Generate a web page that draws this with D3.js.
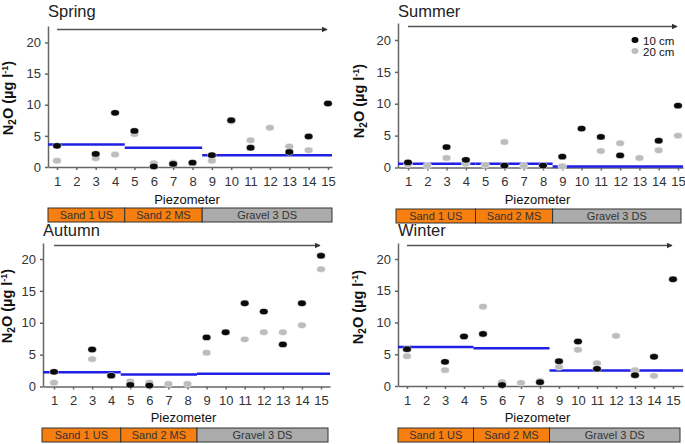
<!DOCTYPE html>
<html><head><meta charset="utf-8">
<script src="https://cdnjs.cloudflare.com/ajax/libs/d3/7.8.5/d3.min.js"></script>
<style>body{margin:0;background:#fff}svg{display:block;font-family:"Liberation Sans",Arial,sans-serif}</style>
</head><body><svg id="c" width="685" height="444"></svg>
<script>
const piezometers = [1,2,3,4,5,6,7,8,9,10,11,12,13,14,15];
const yTicks = [0,5,10,15,20];
const seasons = ["Spring","Summer","Autumn","Winter"];
const spring10 = [3.4,null,2.1,8.7,5.8,0.1,0.5,0.7,1.9,7.5,3.1,null,2.4,4.9,10.2];
const spring20 = [1.0,null,1.4,2.0,5.3,0.6,0.7,0.6,1.0,7.3,4.3,6.3,3.3,2.7,null];
const summer10 = [0.8,null,3.2,1.2,null,0.3,null,0.3,1.7,6.1,4.8,1.9,null,4.2,9.7];
const summer20 = [0.5,0.3,1.5,0.6,0.4,4.0,0.3,null,0.2,null,2.6,3.8,1.5,2.7,5.0];
const autumn10 = [2.3,null,5.8,1.7,0.25,0.15,null,null,7.7,8.5,13.05,11.75,6.6,13.05,20.5];
const autumn20 = [0.6,null,4.3,null,0.8,0.6,0.4,0.4,5.3,null,7.4,8.5,8.5,9.6,18.4];
const winter10 = [5.8,null,3.8,7.8,8.2,0.15,null,0.6,3.9,7.0,2.7,null,1.7,4.6,16.8];
const winter20 = [4.7,null,2.5,null,12.5,0.6,0.5,0.8,3.0,5.7,3.6,7.9,2.5,1.6,null];
const zoneNames = ["Sand 1 US","Sand 2 MS","Gravel 3 DS"];
const zoneBounds = [[null,4.5],[4.5,8.5],[8.5,null]];
const springMeans = [3.6,3.1,1.9];
const summerMeans = [0.6,0.6,0.15];
const autumnMeans = [2.25,1.9,2.0];
const winterMeans = [6.15,5.95,2.45];
const seriesNames = ["10 cm","20 cm"];

const data10 = [spring10,summer10,autumn10,winter10];
const data20 = [spring20,summer20,autumn20,winter20];
const means = [springMeans,summerMeans,autumnMeans,winterMeans];

// panel geometry (pixels)
const panels = [
 {axisX:48, xEnd:332, x1:57, x15:328, y0:167, y20:42.5, yTop:26, titleY:17, tickY:186, labY:204, barY:208, barX0:48, barX1:332, arrowY:29.5, ylabX:13, ylabY:98},
 {axisX:398, xEnd:683, x1:408, x15:678, y0:167.5, y20:40, yTop:23, titleY:17, tickY:186, labY:204, barY:209, barX0:396, barX1:681, arrowY:26.5, ylabX:364, ylabY:101},
 {axisX:43, xEnd:330, x1:54, x15:321, y0:386.5, y20:259, yTop:243, titleY:236, tickY:405, labY:422, barY:428, barX0:42, barX1:328, arrowY:245.5, ylabX:12, ylabY:306},
 {axisX:398, xEnd:683, x1:407, x15:673, y0:386, y20:259, yTop:243, titleY:236, tickY:405, labY:422, barY:428, barX0:398, barX1:680, arrowY:245.5, ylabX:363, ylabY:307}
];

const svg = d3.select("#c");
const defs = svg.append("defs");
defs.append("marker").attr("id","arr").attr("viewBox","0 0 10 10").attr("refX",9).attr("refY",5)
  .attr("markerWidth",4).attr("markerHeight",4).attr("orient","auto")
  .append("path").attr("d","M0,0L10,5L0,10Z").attr("fill","#333");

panels.forEach((p,i)=>{
  const g = svg.append("g");
  const kx = (p.x15-p.x1)/14;
  const x = d3.scaleLinear().domain([1-(p.x1-p.axisX)/kx, 15+(p.xEnd-p.x15)/kx]).range([p.axisX,p.xEnd]);
  const ky = (p.y0-p.y20)/20;
  const y = d3.scaleLinear().domain([0,(p.y0-p.yTop)/ky]).range([p.y0,p.yTop]);

  // title
  g.append("text").attr("x",p.axisX).attr("y",p.titleY).attr("font-size",16.5).attr("fill","#222").text(seasons[i]);

  // arrow
  g.append("line").attr("x1",x(1)).attr("x2",x(15)-1).attr("y1",p.arrowY).attr("y2",p.arrowY)
    .attr("stroke","#555").attr("stroke-width",1.5).attr("marker-end","url(#arr)");

  // axes
  const ya = g.append("g").attr("transform",`translate(${p.axisX},0)`)
    .call(d3.axisLeft(y).tickValues(yTicks).tickSize(3).tickSizeOuter(0).tickPadding(4));
  const xa = g.append("g").attr("transform",`translate(0,${p.y0})`)
    .call(d3.axisBottom(x).tickValues(piezometers).tickSize(3).tickSizeOuter(0).tickPadding(6));
  [ya,xa].forEach(a=>{
    a.selectAll("path,line").attr("stroke","#666").attr("stroke-width",1.5);
    a.selectAll("text").attr("font-size",13).attr("fill","#333").attr("font-family","Liberation Sans, Arial, sans-serif");
  });
  xa.selectAll("text").attr("dy",null).attr("y",p.tickY-p.y0);

  // mean lines
  means[i].forEach((m,j)=>{
    const b = zoneBounds[j];
    const xa0 = b[0]===null ? p.axisX : x(b[0]);
    const xa1 = b[1]===null ? p.xEnd : x(b[1]);
    g.append("line").attr("x1",xa0).attr("x2",xa1).attr("y1",y(m)).attr("y2",y(m))
      .attr("stroke","#1f1fe6").attr("stroke-width",2.5);
  });

  // points
  const drawPts = (arr,col)=>{
    g.append("g").selectAll("ellipse").data(piezometers.map((pz,k)=>({pz,v:arr[k]})).filter(d=>d.v!==null))
      .join("ellipse").attr("cx",d=>x(d.pz)).attr("cy",d=>y(d.v)).attr("rx",4.3).attr("ry",3.2)
      .attr("fill",col).attr("stroke","#fff").attr("stroke-width",0.5);
  };
  drawPts(data20[i],"#bdbdbd");
  drawPts(data10[i],"#0a0a0a");

  // axis title
  g.append("text").attr("x",(p.axisX+p.xEnd)/2 - 3).attr("y",p.labY).attr("text-anchor","middle")
    .attr("font-size",13).attr("fill","#111").text("Piezometer");
  const yl = g.append("text").attr("transform",`translate(${p.ylabX},${p.ylabY}) rotate(-90)`)
    .attr("text-anchor","middle").attr("font-size",14.5).attr("font-weight","bold").attr("fill","#111");
  yl.append("tspan").text("N");
  yl.append("tspan").attr("font-size",10).attr("dy",3).text("2");
  yl.append("tspan").attr("dy",-3).text("O (µg l");
  yl.append("tspan").attr("font-size",9).attr("dy",-5).text("-1");
  yl.append("tspan").attr("dy",5).text(")");

  // zone bar
  const zb = zoneBounds.map(b=>[b[0]===null?p.barX0:x(b[0]), b[1]===null?p.barX1:x(b[1])]);
  zb.forEach((b,j)=>{
    g.append("rect").attr("x",b[0]).attr("y",p.barY).attr("width",b[1]-b[0]).attr("height",14)
      .attr("fill", j<2 ? "#f77f10" : "#ababab").attr("stroke","#333").attr("stroke-width",1);
    g.append("text").attr("x",(b[0]+b[1])/2).attr("y",p.barY+11).attr("text-anchor","middle")
      .attr("font-size",11).attr("fill","#333").text(zoneNames[j]);
  });

  // legend (summer)
  if(i===1){
    const lg = g.append("g");
    [["#0a0a0a",40],["#bdbdbd",51]].forEach((c,k)=>{
      lg.append("ellipse").attr("cx",635).attr("cy",c[1]).attr("rx",3.5).attr("ry",3).attr("fill",c[0]);
      lg.append("text").attr("x",643).attr("y",c[1]+4.5).attr("font-size",11.5).attr("fill","#111").text(seriesNames[k]);
    });
  }
});
</script></body></html>
